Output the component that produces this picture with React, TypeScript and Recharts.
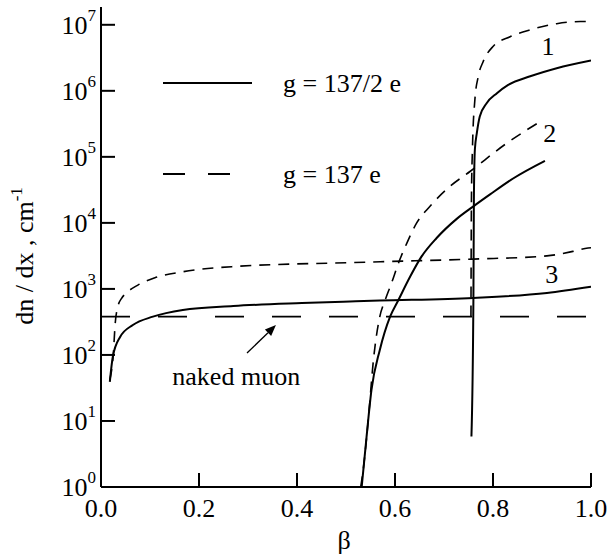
import {
  Customized,
  Line,
  LineChart,
  ReferenceDot,
  ReferenceLine,
  XAxis,
  YAxis,
} from "recharts";

const TXT = { fontFamily: "Liberation Serif" };

const betaTicks = [0, 0.2, 0.4, 0.6, 0.8, 1.0];
const decadeTicks = [1, 10, 100, 1e3, 1e4, 1e5, 1e6, 1e7];

// curve 1
const c1SolidBeta = [0.756, 0.76, 0.761, 0.763, 0.767, 0.773, 0.787, 0.808, 0.831, 0.876, 0.93, 1.0];
const c1SolidDn = [5.8, 680, 22400, 129000, 228000, 408000, 650000, 920000, 1.23e6, 1.66e6, 2.2e6, 2.88e6];
const c1DashBeta = [0.755, 0.756, 0.758, 0.763, 0.77, 0.78, 0.8, 0.835, 0.876, 0.93, 0.978, 1.0];
const c1DashDn = [380, 22400, 129000, 730000, 1.66e6, 2.78e6, 4.7e6, 6.6e6, 8.4e6, 1.04e7, 1.12e7, 1.12e7];

// curve 2
const c2SolidBeta = [0.532, 0.542, 0.552, 0.569, 0.59, 0.607, 0.631, 0.654, 0.685, 0.726, 0.76, 0.794, 0.841, 0.906];
const c2SolidDn = [1, 5.8, 29.5, 119, 380, 680, 1540, 3080, 5900, 11500, 17800, 27000, 47000, 87000];
const c2DashBeta = [0.53, 0.535, 0.546, 0.556, 0.569, 0.58, 0.593, 0.607, 0.624, 0.644, 0.671, 0.712, 0.753, 0.828, 0.902];
const c2DashDn = [1, 1.8, 11.6, 84, 380, 680, 1230, 2450, 4900, 9900, 17700, 35600, 60000, 161000, 363000];

// curve 3
const c3SolidBeta = [0.018, 0.024, 0.039, 0.065, 0.106, 0.167, 0.27, 0.41, 0.508, 0.569, 0.76, 0.91, 1.0];
const c3SolidDn = [39, 93, 187, 284, 380, 480, 550, 610, 645, 665, 730, 870, 1080];
const c3DashBeta = [0.018, 0.025, 0.029, 0.035, 0.042, 0.052, 0.076, 0.11, 0.167, 0.27, 0.508, 0.57, 0.76, 0.91, 0.963, 0.994, 1.0];
const c3DashDn = [42, 100, 300, 560, 720, 870, 1150, 1470, 1820, 2180, 2500, 2580, 2830, 3160, 3700, 4170, 4200];

// naked muon level
const muonBeta = [0, 1];
const muonDn = [380, 380];

const pts = (xs: number[], ys: number[]) => xs.map((x, i) => ({ x, y: ys[i] }));

const Y_MAX = 1.86e7;

const BottomTick = ({ x, y, payload }: any) => (
  <g>
    <line x1={x} x2={x} y1={y} y2={y - 14} stroke="#000" strokeWidth={2} />
    <text x={x} y={y + 30} textAnchor="middle" style={TXT} fontSize={26} fill="#000">
      {payload.value.toFixed(1)}
    </text>
  </g>
);

const TopTick = ({ x, y }: any) => (
  <line x1={x} x2={x} y1={y} y2={y + 14} stroke="#000" strokeWidth={2} />
);

const LeftTick = ({ x, y, payload }: any) => {
  const exp = Math.round(Math.log10(payload.value));
  return (
    <g>
      <line x1={x} x2={x + 14} y1={y} y2={y} stroke="#000" strokeWidth={2} />
      <text x={x - 5} y={y + 9} textAnchor="end" style={TXT} fontSize={26} fill="#000">
        10
        <tspan dy={-13} fontSize={17}>
          {exp}
        </tspan>
      </text>
    </g>
  );
};

const RightTick = ({ x, y }: any) => (
  <line x1={x} x2={x - 13} y1={y} y2={y} stroke="#000" strokeWidth={2} />
);

const textLabel = (txt: string) => (p: any) => (
  <text x={p.cx} y={p.cy + 9} textAnchor="middle" style={TXT} fontSize={26} fill="#000">
    {txt}
  </text>
);

const Arrow = (p: any) => {
  const { x1, y1, x2, y2 } = p;
  const ang = Math.atan2(y2 - y1, x2 - x1);
  const len = 11;
  const w = 4.5;
  const bx = x2 - len * Math.cos(ang);
  const by = y2 - len * Math.sin(ang);
  const nx = -Math.sin(ang) * w;
  const ny = Math.cos(ang) * w;
  return (
    <g>
      <line x1={x1} y1={y1} x2={bx} y2={by} stroke="#000" strokeWidth={1.3} />
      <polygon points={`${x2},${y2} ${bx + nx},${by + ny} ${bx - nx},${by - ny}`} fill="#000" />
    </g>
  );
};

const Decorations = () => (
  <g fill="#000">
    <line x1={163} x2={252} y1={83} y2={83} stroke="#000" strokeWidth={2} />
    <text x={283} y={92} fontSize={26} style={TXT}>g = 137/2 e</text>
    <line x1={163} x2={230} y1={174} y2={174} stroke="#000" strokeWidth={2} strokeDasharray="22 23" />
    <text x={283} y={183} fontSize={26} style={TXT}>g = 137 e</text>
    <text x={33} y={256} fontSize={26} style={TXT} textAnchor="middle" transform="rotate(-90, 33, 256)">
      dn / dx , cm
      <tspan dy={-11} fontSize={17}>-1</tspan>
    </text>
    <text x={344} y={549} fontSize={26} style={TXT} textAnchor="middle">β</text>
  </g>
);

const App = () => {
  return (
    <div style={{ position: "absolute", left: 0, top: 0 }}>
      <LineChart width={609} height={556} margin={{ top: 7, right: 18, bottom: 0, left: 0 }}>
        <XAxis
          dataKey="x"
          type="number"
          domain={[0, 1]}
          ticks={betaTicks}
          interval={0}
          allowDataOverflow
          height={69}
          tickSize={0}
          tickMargin={0}
          tick={<BottomTick />}
          axisLine={{ stroke: "#000", strokeWidth: 2 }}
        />
        <XAxis
          xAxisId="top"
          orientation="top"
          dataKey="x"
          type="number"
          domain={[0, 1]}
          ticks={betaTicks}
          interval={0}
          allowDataOverflow
          height={0}
          tickSize={0}
          tickMargin={0}
          tick={<TopTick />}
          axisLine={{ stroke: "#000", strokeWidth: 2 }}
        />
        <YAxis
          dataKey="y"
          scale="log"
          type="number"
          domain={[1, Y_MAX]}
          ticks={decadeTicks}
          interval={0}
          allowDataOverflow
          width={101}
          tickSize={0}
          tickMargin={0}
          tick={<LeftTick />}
          axisLine={{ stroke: "#000", strokeWidth: 2 }}
        />
        <YAxis
          yAxisId="right"
          orientation="right"
          dataKey="y"
          scale="log"
          type="number"
          domain={[1, Y_MAX]}
          ticks={decadeTicks}
          interval={0}
          allowDataOverflow
          width={0}
          tickSize={0}
          tickMargin={0}
          tick={<RightTick />}
          axisLine={{ stroke: "#000", strokeWidth: 2 }}
        />
        <Line
          data={pts(muonBeta, muonDn)}
          xAxisId="top"
          yAxisId="right"
          dataKey="y"
          type="linear"
          stroke="#000"
          strokeWidth={1.8}
          strokeDasharray="29 28"
          dot={false}
          isAnimationActive={false}
        />
        <Line data={pts(c3SolidBeta, c3SolidDn)} dataKey="y" type="monotone" stroke="#000" strokeWidth={2} dot={false} isAnimationActive={false} />
        <Line data={pts(c3DashBeta, c3DashDn)} dataKey="y" type="monotone" stroke="#000" strokeWidth={1.6} strokeDasharray="11 8" dot={false} isAnimationActive={false} />
        <Line data={pts(c2SolidBeta, c2SolidDn)} dataKey="y" type="monotone" stroke="#000" strokeWidth={2} dot={false} isAnimationActive={false} />
        <Line data={pts(c2DashBeta, c2DashDn)} dataKey="y" type="monotone" stroke="#000" strokeWidth={1.6} strokeDasharray="11 8" dot={false} isAnimationActive={false} />
        <Line data={pts(c1SolidBeta, c1SolidDn)} dataKey="y" type="monotone" stroke="#000" strokeWidth={2} dot={false} isAnimationActive={false} />
        <Line data={pts(c1DashBeta, c1DashDn)} dataKey="y" type="monotone" stroke="#000" strokeWidth={1.6} strokeDasharray="11 8" dot={false} isAnimationActive={false} />
        <ReferenceDot x={0.912} y={4.8e6} r={0} shape={textLabel("1")} />
        <ReferenceDot x={0.916} y={230000} r={0} shape={textLabel("2")} />
        <ReferenceDot x={0.92} y={1700} r={0} shape={textLabel("3")} />
        <ReferenceDot x={0.276} y={48} r={0} shape={textLabel("naked muon")} />
        <ReferenceLine
          segment={[
            { x: 0.298, y: 107 },
            { x: 0.357, y: 284 },
          ]}
          shape={Arrow}
        />
        <Customized component={Decorations} />
      </LineChart>
    </div>
  );
};

export default App;
